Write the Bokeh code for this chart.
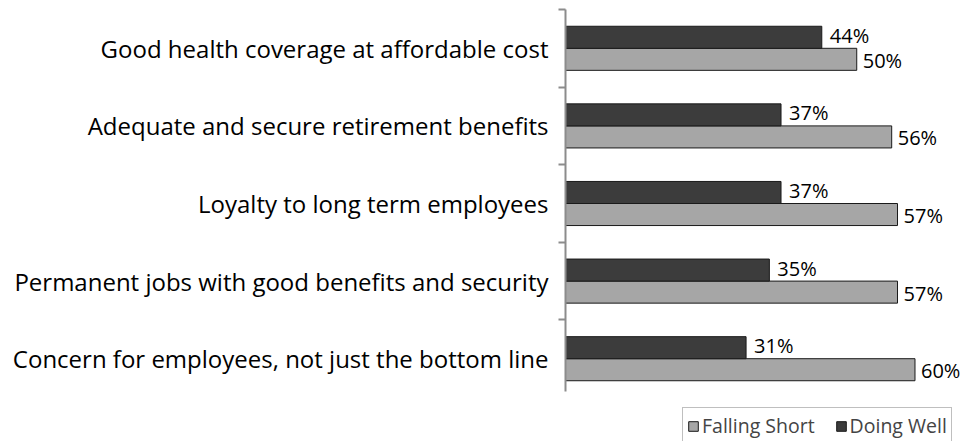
from bokeh.plotting import figure
from bokeh.models import Range1d, FixedTicker, Legend, LegendItem, ColumnDataSource
from bokeh.core.properties import value
from bokeh.embed import file_html
from bokeh.resources import INLINE

categories = [
    "Good health coverage at affordable cost",
    "Adequate and secure retirement benefits",
    "Loyalty to long term employees",
    "Permanent jobs with good benefits and security",
    "Concern for employees, not just the bottom line",
]
doing_well = [44, 37, 37, 35, 31]
falling_short = [50, 56, 57, 57, 60]

DARK = "#3c3c3c"
LIGHT = "#a6a6a6"
FONT = "Open Sans"

n = len(categories)
centers = [i + 0.5 for i in range(n)]
bounds = [float(i) for i in range(n)]
h = 0.284

dark_src = ColumnDataSource(dict(
    y=[c - h / 2 for c in centers], x=doing_well,
    lab=[f"{v}%" for v in doing_well]))
light_src = ColumnDataSource(dict(
    y=[c + h / 2 for c in centers], x=falling_short,
    lab=[f"{v}%" for v in falling_short]))

p = figure(width=964, height=441, output_backend="svg", toolbar_location=None,
           x_range=Range1d(0, 68.5), y_range=Range1d(5.567, 0),
           min_border_left=565, min_border_right=0, min_border_top=9,
           min_border_bottom=0)
p.outline_line_color = None
p.xgrid.visible = False
p.ygrid.visible = False
p.xaxis.visible = False

light = p.hbar(y="y", right="x", left=0, height=h, source=light_src,
               fill_color=LIGHT, line_color="#1a1a1a", line_width=1)
dark = p.hbar(y="y", right="x", left=0, height=h, source=dark_src,
              fill_color=DARK, line_color="#1a1a1a", line_width=1)

p.text(x="x", y="y", text="lab", source=dark_src, x_offset=8, y_offset=-2,
       text_baseline="middle", text_align="left",
       text_font=value(FONT), text_font_size="20px", text_color="black")
p.text(x="x", y="y", text="lab", source=light_src, x_offset=6, y_offset=1,
       text_baseline="middle", text_align="left",
       text_font=value(FONT), text_font_size="20px", text_color="black")

ax = p.yaxis[0]
ax.ticker = FixedTicker(ticks=centers, minor_ticks=bounds)
ax.major_label_overrides = {c: name for c, name in zip(centers, categories)}
ax.major_tick_line_color = None
ax.major_tick_out = 0
ax.major_tick_in = 0
ax.minor_tick_out = 7
ax.minor_tick_in = 0
ax.minor_tick_line_color = "#8c8c8c"
ax.minor_tick_line_width = 2
ax.axis_line_color = "#8c8c8c"
ax.axis_line_width = 2
ax.bounds = (0, 4.92)
ax.major_label_standoff = 10
ax.major_label_text_font = FONT
ax.major_label_text_font_size = "24px"
ax.major_label_text_color = "black"

legend = Legend(items=[LegendItem(label="Falling Short", renderers=[light]),
                       LegendItem(label="Doing Well", renderers=[dark])],
                orientation="horizontal", location=(117, -3),
                glyph_width=12, glyph_height=12, label_standoff=3,
                spacing=20, padding=4, margin=0,
                border_line_color="#808080", border_line_width=1,
                label_text_font=FONT, label_text_font_size="19.5px",
                background_fill_alpha=1.0)
p.add_layout(legend, "center")

open("out.html", "w").write(file_html(p, INLINE))
